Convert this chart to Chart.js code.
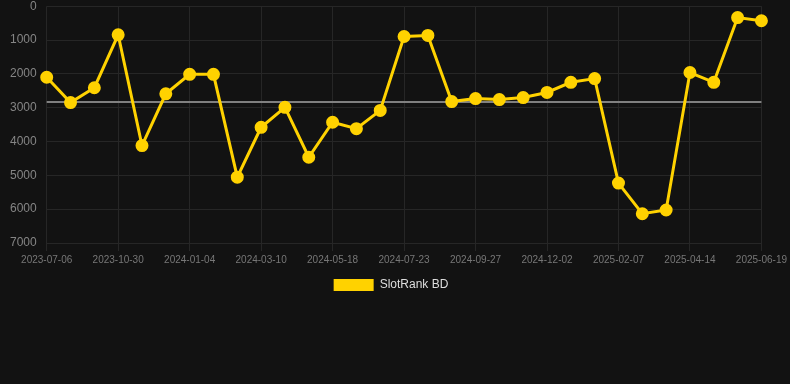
<!DOCTYPE html>
<html>
<head>
<meta charset="utf-8">
<script src="https://cdn.jsdelivr.net/npm/chart.js@4/dist/chart.umd.min.js"></script>
<style>
  html, body { margin: 0; padding: 0; background: #121212; overflow: hidden; }
  #wrap { width: 790px; height: 312px; margin-top: -11px; position: relative; }
</style>
</head>
<body>
<div id="wrap"><canvas id="c"></canvas></div>
<script>
const categories = [
  "2023-07-06","2023-08-14","2023-09-22","2023-10-30","2023-11-21","2023-12-13",
  "2024-01-04","2024-01-26","2024-02-17","2024-03-10","2024-04-02","2024-04-25",
  "2024-05-18","2024-06-09","2024-07-01","2024-07-23","2024-08-14","2024-09-05",
  "2024-09-27","2024-10-19","2024-11-10","2024-12-02","2024-12-24","2025-01-16",
  "2025-02-07","2025-03-01","2025-03-23","2025-04-14","2025-05-06","2025-05-28",
  "2025-06-19"
];
const slotRankBD = [
  2100, 2850, 2410, 845, 4120, 2590,
  2015, 2015, 5055, 3580, 2990, 4465,
  3430, 3620, 3080, 895, 865, 2820,
  2730, 2760, 2700, 2550, 2250, 2140,
  5230, 6135, 6025, 1960, 2250, 335,
  430
];
const averageValue = 2830;
const averageLine = categories.map(() => averageValue);
const yTicks = [0, 1000, 2000, 3000, 4000, 5000, 6000, 7000];

const legendShift = {
  id: 'legendShift',
  afterLayout(chart) {
    if (chart.legend) { chart.legend.left += 5; chart.legend.right += 5; }
  }
};

new Chart(document.getElementById('c'), {
  type: 'line',
  plugins: [legendShift],
  data: {
    labels: categories,
    datasets: [
      {
        label: 'SlotRank BD',
        data: slotRankBD,
        borderColor: '#ffd200',
        backgroundColor: '#ffd200',
        borderWidth: 3,
        pointRadius: 5,
        pointHoverRadius: 5,
        pointBackgroundColor: '#ffd200',
        pointBorderColor: '#ffd200',
        tension: 0,
        order: 1
      },
      {
        label: 'avg',
        data: averageLine,
        borderColor: '#808080',
        borderWidth: 2,
        pointRadius: 0,
        tension: 0,
        order: 2
      }
    ]
  },
  options: {
    responsive: true,
    maintainAspectRatio: false,
    animation: false,
    layout: { padding: { left: 0, right: 18, top: 0, bottom: 0 } },
    plugins: {
      legend: {
        position: 'bottom',
        labels: {
          color: '#dddddd',
          font: { family: 'Liberation Sans, Arial, sans-serif', size: 12 },
          boxWidth: 40,
          boxHeight: 12,
          generateLabels: (chart) => {
            const items = Chart.defaults.plugins.legend.labels.generateLabels(chart);
            return items.filter(i => i.text !== 'avg').map(i => Object.assign(i, { lineWidth: 0 }));
          }
        }
      },
      tooltip: { enabled: false }
    },
    scales: {
      x: {
        grid: { color: '#262626', drawTicks: true, tickLength: 8 },
        border: { color: '#262626' },
        ticks: {
          color: '#777777',
          font: { family: 'Liberation Sans, Arial, sans-serif', size: 10 },
          maxRotation: 0,
          autoSkip: true,
          maxTicksLimit: 11
        }
      },
      y: {
        reverse: true,
        min: yTicks[0],
        max: yTicks[yTicks.length - 1],
        grid: { color: '#262626', drawTicks: false },
        border: { display: false },
        afterBuildTicks: (scale) => { scale.ticks = yTicks.map(v => ({ value: v })); },
        ticks: {
          color: '#858585',
          padding: 10,
          font: { family: 'Liberation Sans, Arial, sans-serif', size: 12 },
          callback: (v) => String(v)
        }
      }
    }
  }
});
</script>
</body>
</html>
